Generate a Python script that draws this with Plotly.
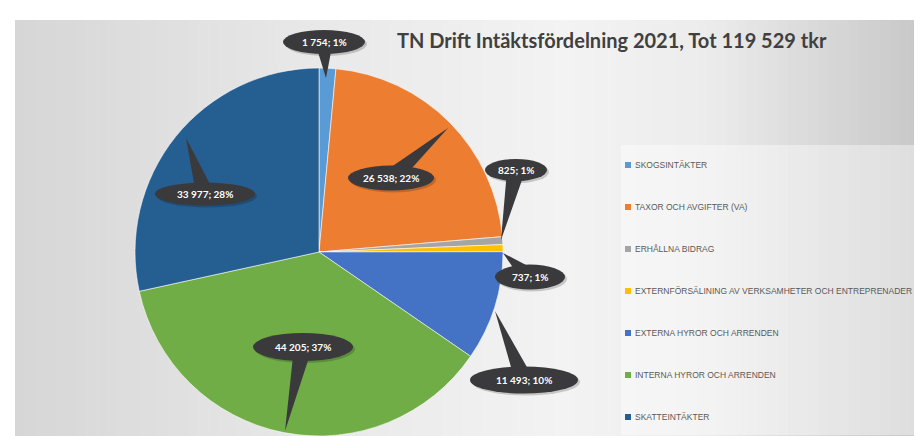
import math
import plotly.graph_objects as go

# ---------------- data ----------------
categories = [
    "SKOGSINTÄKTER",
    "TAXOR OCH AVGIFTER (VA)",
    "ERHÅLLNA BIDRAG",
    "EXTERNFÖRSÄLINING AV VERKSAMHETER OCH ENTREPRENADER",
    "EXTERNA HYROR OCH ARRENDEN",
    "INTERNA HYROR OCH ARRENDEN",
    "SKATTEINTÄKTER",
]
values = [1754, 26538, 825, 737, 11493, 44205, 33977]
colors = ["#5B9BD5", "#ED7D31", "#A5A5A5", "#FFC000", "#4472C4", "#70AD47", "#255E91"]
title_text = "TN Drift Intäktsfördelning 2021, Tot 119 529 tkr"

# ---------------- layout helpers ----------------
W, H = 922, 436


def px(x):
    return x / W


def py(y):
    return 1 - y / H


total = sum(values)
label_texts = [
    f"{v:,}".replace(",", " ") + "; " + f"{round(100 * v / total)}%" for v in values
]

# callout placement (pixels): bubble centre, bubble size, pointer tip
callouts = [
    dict(c=(316, 34), w=82, h=24, tip=(318, 70)),
    dict(c=(383, 170), w=86, h=25, tip=(440, 120)),
    dict(c=(508, 162), w=62, h=22, tip=(493, 232)),
    dict(c=(522, 269), w=70, h=25, tip=(495, 245)),
    dict(c=(516, 372), w=108, h=27, tip=(487, 303)),
    dict(c=(295, 339), w=100, h=28, tip=(277, 423)),
    dict(c=(197, 186), w=100, h=23, tip=(178, 130)),
]

# pie geometry (pixels)
cx, cy, r = 311, 244, 184

fig = go.Figure()
fig.add_trace(
    go.Pie(
        labels=categories,
        values=values,
        sort=False,
        direction="clockwise",
        rotation=0,
        marker=dict(colors=colors, line=dict(color="rgba(255,255,255,0.7)", width=0.8)),
        textinfo="none",
        hovertemplate="%{label}<br>%{value:,}; %{percent:.0%}<extra></extra>",
        domain=dict(x=[px(cx - r), px(cx + r)], y=[py(cy + r), py(cy - r)]),
        showlegend=False,
    )
)

shapes = []

# background gradient (horizontal strips)
x0, x1, top = 7, W, 12
n = 90


def gray_at(x):
    pts = [(7, 214), (300, 232), (560, 243), (700, 236), (922, 198)]
    for (a, ga), (b, gb) in zip(pts[:-1], pts[1:]):
        if a <= x <= b:
            return ga + (gb - ga) * (x - a) / (b - a)
    return pts[-1][1]


for i in range(n):
    xa = x0 + (x1 - x0) * i / n
    xb = x0 + (x1 - x0) * (i + 1) / n + 0.6
    g = int(round(gray_at((xa + xb) / 2)))
    shapes.append(dict(type="rect", xref="paper", yref="paper",
                       x0=px(xa), x1=px(xb), y0=py(H), y1=py(top),
                       fillcolor=f"rgb({g},{g},{g})", line=dict(width=0), layer="below"))

# legend box
shapes.append(dict(type="rect", xref="paper", yref="paper",
                   x0=px(613), x1=px(W + 2), y0=py(427), y1=py(137),
                   fillcolor="rgba(255,255,255,0.40)", line=dict(width=0), layer="below"))

annotations = []

# manual legend
for i, (cat, col) in enumerate(zip(categories, colors)):
    yc = 157 + i * 42
    shapes.append(dict(type="rect", xref="paper", yref="paper",
                       x0=px(617), x1=px(623), y0=py(yc + 3), y1=py(yc - 3),
                       fillcolor=col, line=dict(width=0)))
    annotations.append(dict(x=px(625), y=py(yc), xref="paper", yref="paper",
                            text=cat, showarrow=False, xanchor="left", yanchor="middle",
                            font=dict(family="Liberation Sans, Arial, sans-serif",
                                      size=8.5, color="#595959")))

# callouts
bubble_col = "rgb(58,58,60)"
for txt, co in zip(label_texts, callouts):
    (bx, by), bw, bh, (tx, ty) = co["c"], co["w"], co["h"], co["tip"]
    dx, dy = tx - bx, ty - by
    d = math.hypot(dx, dy)
    nx, ny = -dy / d, dx / d
    half = 9
    p1 = (bx + nx * half, by + ny * half)
    p2 = (bx - nx * half, by - ny * half)
    path = (f"M {px(p1[0])} {py(p1[1])} L {px(tx)} {py(ty)} "
            f"L {px(p2[0])} {py(p2[1])} Z")
    # soft shadow
    shapes.append(dict(type="circle", xref="paper", yref="paper",
                       x0=px(bx - bw / 2 + 2), x1=px(bx + bw / 2 + 2),
                       y0=py(by + bh / 2 + 2), y1=py(by - bh / 2 + 2),
                       fillcolor="rgba(0,0,0,0.18)", line=dict(width=0)))
    shapes.append(dict(type="path", xref="paper", yref="paper", path=path,
                       fillcolor=bubble_col, line=dict(width=0)))
    shapes.append(dict(type="circle", xref="paper", yref="paper",
                       x0=px(bx - bw / 2), x1=px(bx + bw / 2),
                       y0=py(by + bh / 2), y1=py(by - bh / 2),
                       fillcolor=bubble_col, line=dict(width=0)))
    annotations.append(dict(x=px(bx), y=py(by), xref="paper", yref="paper",
                            text=f"<b>{txt}</b>", showarrow=False,
                            xanchor="center", yanchor="middle",
                            font=dict(family="Lato, sans-serif", size=10, color="white")))

# title
annotations.append(dict(x=px(387), y=py(32), xref="paper", yref="paper",
                        text=f"<b>{title_text}</b>", showarrow=False,
                        xanchor="left", yanchor="middle",
                        font=dict(family="Lato, sans-serif", size=20, color="#404040")))

fig.update_layout(
    width=W, height=H,
    margin=dict(l=0, r=0, t=0, b=0),
    paper_bgcolor="white",
    plot_bgcolor="white",
    separators=", ",
    shapes=shapes,
    annotations=annotations,
    showlegend=False,
)

fig.write_html("out.html")
